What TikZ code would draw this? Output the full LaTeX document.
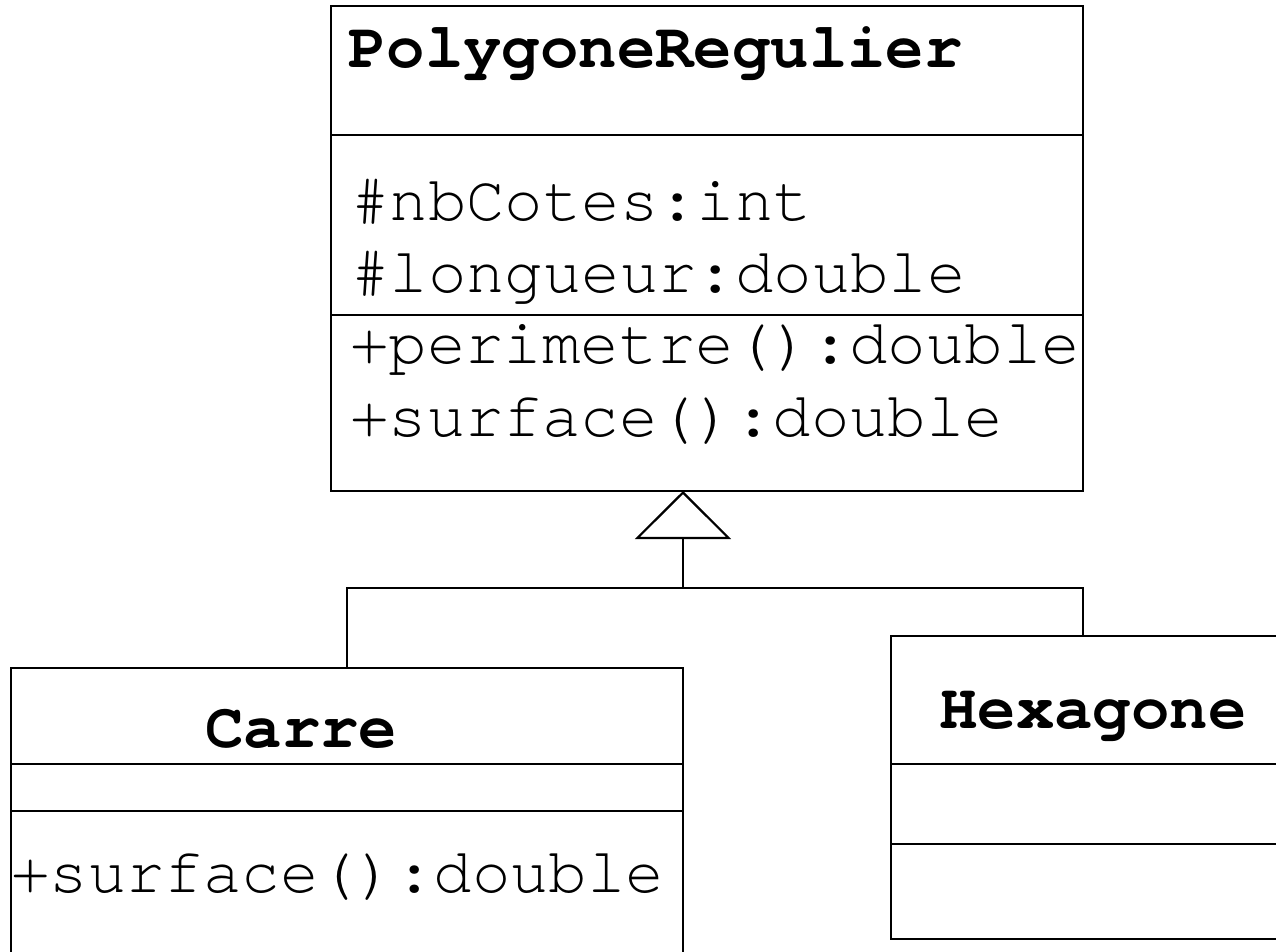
\documentclass[tikz,border=0pt]{standalone}
\usepackage{fontspec}
\setmonofont{TeX Gyre Cursor}
\usetikzlibrary{arrows.meta}
\begin{document}
\begin{tikzpicture}[x=1pt,y=-1pt,
  umlbox/.style={draw, line width=2.2pt, rectangle, inner sep=0pt, outer sep=0pt, anchor=north west},
  txt/.style={inner sep=0pt, anchor=base west, font=\ttfamily\fontsize{64}{64}\selectfont},
  ttl/.style={inner sep=0pt, anchor=base west, font=\ttfamily\bfseries\fontsize{64}{64}\selectfont},
  sepline/.style={line width=2.2pt},
  link/.style={line width=2.2pt}]
\useasboundingbox (0,0) rectangle (1276,952);
\clip (0,0) rectangle (1276,952);
\fill[white] (0,0) rectangle (1276,952);

% PolygoneRegulier
\node[umlbox, minimum width=752pt, minimum height=485pt] (poly) at (331,6) {};
\draw[sepline] ([yshift=-129pt]poly.north west) -- ([yshift=-129pt]poly.north east);
\draw[sepline] ([yshift=-309pt]poly.north west) -- ([yshift=-309pt]poly.north east);
\node[ttl] (polyT) at (348,68) {PolygoneRegulier};
\node[txt] (polyA1) at (351,220) {\#nbCotes:int};
\node[txt] (polyA2) at (351,292) {\#longueur:double};
\node[txt] (polyM1) at (350,363) {+perimetre():double};
\node[txt] (polyM2) at (350,436) {+surface():double};

% Carre
\node[umlbox, minimum width=672pt, minimum height=340pt] (carre) at (11,668) {};
\draw[sepline] ([yshift=-96pt]carre.north west) -- ([yshift=-96pt]carre.north east);
\draw[sepline] ([yshift=-143pt]carre.north west) -- ([yshift=-143pt]carre.north east);
\node[ttl] (carreT) at (205,747) {Carre};
\node[txt] (carreM1) at (11,892) {+surface():double};

% Hexagone
\node[umlbox, minimum width=400pt, minimum height=303pt] (hex) at (891,636) {};
\draw[sepline] ([yshift=-128pt]hex.north west) -- ([yshift=-128pt]hex.north east);
\draw[sepline] ([yshift=-208pt]hex.north west) -- ([yshift=-208pt]hex.north east);
\node[ttl] (hexT) at (939,728) {Hexagone};

% Inheritance
\coordinate (join) at (683,588);
\coordinate (cL) at (347,588);
\coordinate (cR) at (1083,588);
\draw[link, -{Triangle[open, width=96pt, length=48pt, line width=2.2pt]}] (join) -- (join |- poly.south);
\draw[link] (carre.north -| cL) -- (cL) -- (cR) -- (hex.north -| cR);
\end{tikzpicture}
\end{document}
